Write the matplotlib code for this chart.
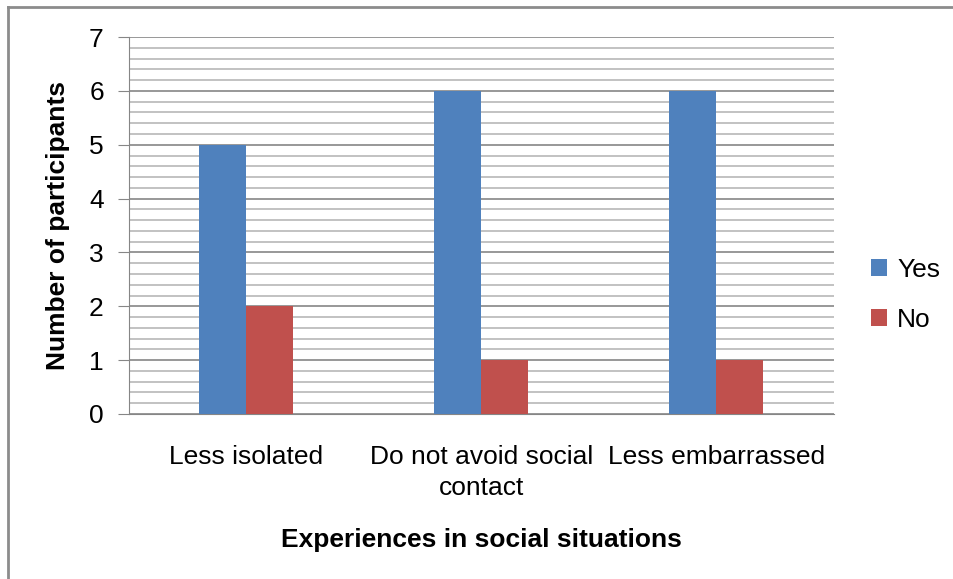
import numpy as np
import matplotlib.pyplot as plt
from matplotlib.lines import Line2D

plt.rcParams['font.family'] = ['Liberation Sans', 'DejaVu Sans']
plt.rcParams['font.size'] = 19

categorias = ['Less isolated', 'Do not avoid social\ncontact', 'Less embarrassed']
sim = [5, 6, 6]
nao = [2, 1, 1]

cor_sim = '#4F81BD'
cor_nao = '#C0504D'

fig = plt.figure(figsize=(9.54, 5.79), dpi=100)
ax = fig.add_axes([0.135, 0.285, 0.739, 0.651])

x = np.arange(len(categorias))
w = 0.2
ax.bar(x - w / 2, sim, w, color=cor_sim, label='Yes', zorder=3)
ax.bar(x + w / 2, nao, w, color=cor_nao, label='No', zorder=3)

ax.set_xlim(-0.5, len(categorias) - 0.5)
ax.set_ylim(0, 7)
ax.set_yticks(range(0, 8))
ax.set_yticks(np.arange(0, 7.01, 0.2), minor=True)
ax.yaxis.grid(True, which='major', color='#868686', linewidth=1.2, zorder=0)
ax.yaxis.grid(True, which='minor', color='#b8b8b8', linewidth=1.2, zorder=0)
ax.tick_params(axis='y', which='major', length=8, color='#868686', pad=10)
ax.tick_params(axis='y', which='minor', length=0)
ax.tick_params(axis='x', length=0, pad=22)
ax.set_xticks(x)
ax.set_xticklabels(categorias, linespacing=1.4)

for s in ['top', 'right']:
    ax.spines[s].set_visible(False)
ax.spines['left'].set_color('#868686')
ax.spines['bottom'].set_color('#868686')

ax.set_ylabel('Number of participants', fontweight='bold', labelpad=14)
ax.set_xlabel('Experiences in social situations', fontweight='bold', labelpad=20)

ax.legend(loc='center left', bbox_to_anchor=(1.0, 0.316), frameon=False,
          handlelength=0.6, handleheight=0.6, handletextpad=0.4, labelspacing=1.0,
          borderaxespad=1.0)

# borda da figura (esquerda e topo)
fig.add_artist(Line2D([0.008, 0.008], [0, 0.988], transform=fig.transFigure,
                      color='#8c8c8c', linewidth=2))
fig.add_artist(Line2D([0.008, 1.0], [0.988, 0.988], transform=fig.transFigure,
                      color='#8c8c8c', linewidth=2))

fig.savefig('out.png', dpi=100)
